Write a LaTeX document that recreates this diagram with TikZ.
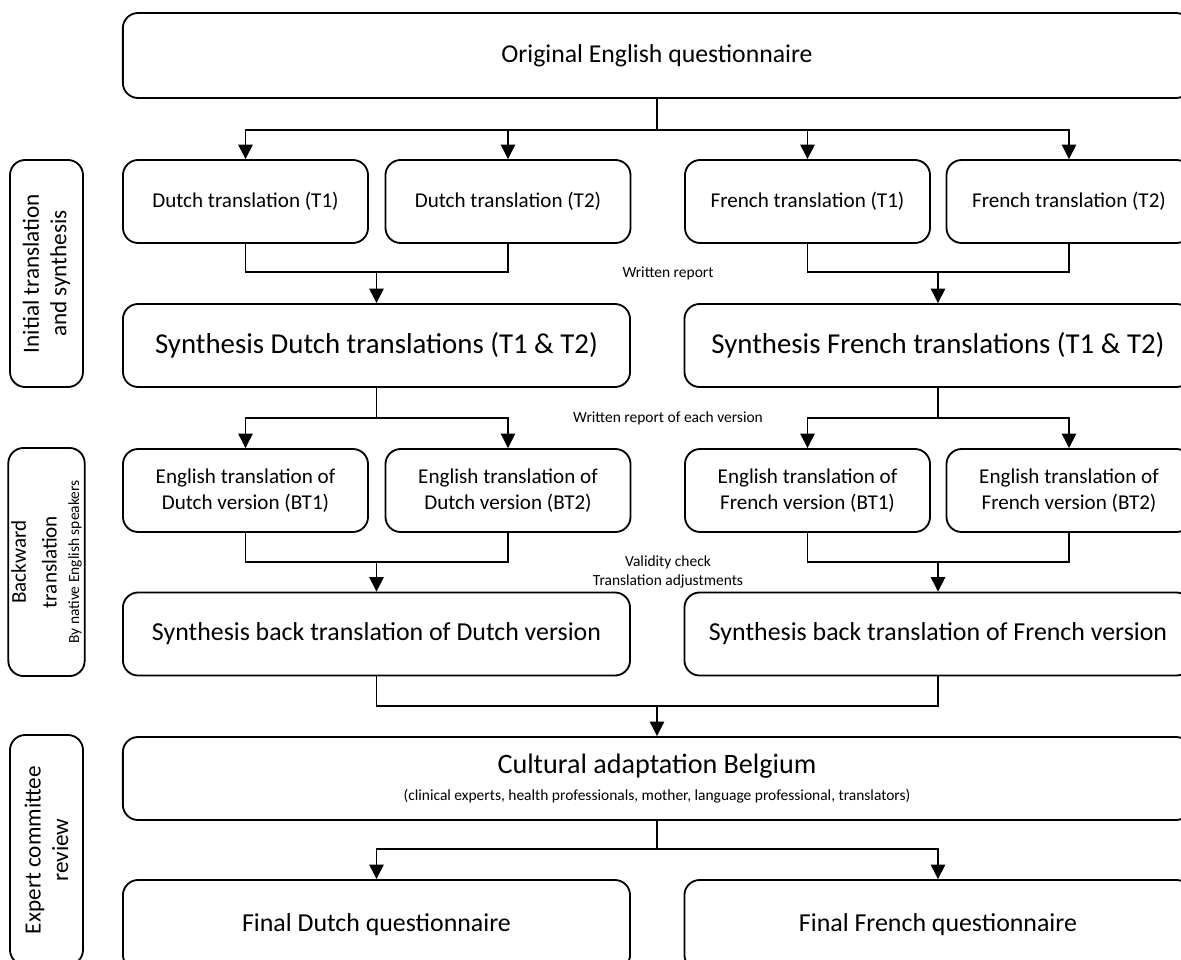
\documentclass[tikz,border=0pt]{standalone}
\usepackage{fontspec}
\setmainfont{Carlito}
\usetikzlibrary{arrows.meta}
\usetikzlibrary{positioning}

\begin{document}
\begin{tikzpicture}[x=0.025cm, y=-0.025cm,
        box/.style={draw, rounded corners=0.38cm, line width=1.3pt, align=center, inner sep=2pt},
        small/.style={box, minimum width=6.125cm, minimum height=2.075cm, font=\fontsize{15}{18.5}\selectfont},
        wide/.style={box, minimum width=12.675cm, minimum height=2.075cm, font=\fontsize{18.4}{22}\selectfont},
        side/.style={box, rotate=90, minimum height=1.825cm, font=\fontsize{16.5}{19.5}\selectfont},
        note/.style={font=\fontsize{11}{13}\selectfont, align=center},
        line/.style={line width=0.8pt},
        arr/.style={line, -{Triangle[width=0.36cm, length=0.36cm]}}]
    \useasboundingbox (0,0) rectangle (1181,959);
    \clip (0,0) rectangle (1181,959);

    % steps
    \node[box, minimum width=26.7cm, minimum height=2.125cm, font=\fontsize{18.3}{22}\selectfont] (orig) at (657,55.5) {Original English questionnaire};
    \node[small] (dt1) at (245.5,201.5) {Dutch translation (T1)};
    \node[small] (dt2) at (508,201.5) {Dutch translation (T2)};
    \node[small] (ft1) at (807.5,201.5) {French translation (T1)};
    \node[small] (ft2) at (1069,201.5) {French translation (T2)};
    \node[wide, font=\fontsize{20.5}{24}\selectfont] (sd) at (376.5,345.5) {Synthesis Dutch translations (T1 \& T2)};
    \node[wide, font=\fontsize{20.5}{24}\selectfont] (sf) at (938,345.5) {Synthesis French translations (T1 \& T2)};
    \node[small] (bd1) at (245.5,490.5) {English translation of\\Dutch version (BT1)};
    \node[small] (bd2) at (508,490.5) {English translation of\\Dutch version (BT2)};
    \node[small] (bf1) at (807.5,490.5) {English translation of\\French version (BT1)};
    \node[small] (bf2) at (1069,490.5) {English translation of\\French version (BT2)};
    \node[wide] (bsd) at (376.5,634) {Synthesis back translation of Dutch version};
    \node[wide] (bsf) at (938,634) {Synthesis back translation of French version};
    \node[box, minimum width=26.7cm, minimum height=2.075cm, font=\fontsize{20}{24}\selectfont] (cult) at (657,778.5)
        {Cultural adaptation Belgium\\[-5pt]
         {\fontsize{11}{13}\selectfont (clinical experts, health professionals, mother, language professional, translators)}};
    \node[wide, minimum height=2.25cm] (fd) at (376.5,925) {Final Dutch questionnaire};
    \node[wide, minimum height=2.25cm] (ff) at (938,925) {Final French questionnaire};

    % phases
    \node[side, minimum width=5.675cm] (ph1) at (46.5,273.5) {Initial translation\\and synthesis};
    \node[side, minimum width=5.7cm, font=\fontsize{15}{22}\selectfont] (ph2) at (46.5,562)
        {Backward\\translation\\[-6pt]{\fontsize{11}{12}\selectfont By native English speakers}};
    \node[side, minimum width=5.75cm] (ph3) at (46.5,850) {Expert committee\\review};

    % notes
    \node[note] (n1) at (668,273) {Written report};
    \node[note] (n2) at (668,418) {Written report of each version};
    \node[note] (n3) at (668,572) {Validity check\\Translation adjustments};

    % connectors
    \coordinate (s1) at (657,130);
    \draw[line] (orig.south) -- (s1);
    \draw[arr] (s1) -| (dt1.north);
    \draw[arr] (s1) -| (dt2.north);
    \draw[arr] (s1) -| (ft1.north);
    \draw[arr] (s1) -| (ft2.north);

    \coordinate (m1) at (376.5,272);
    \coordinate (m2) at (938,272);
    \draw[line] (dt1.south) |- (m1) -| (dt2.south);
    \draw[line] (ft1.south) |- (m2) -| (ft2.south);
    \draw[arr] (m1) -- (sd.north);
    \draw[arr] (m2) -- (sf.north);

    \coordinate (s2) at (376.5,418);
    \coordinate (s3) at (938,418);
    \draw[line] (sd.south) -- (s2);
    \draw[line] (sf.south) -- (s3);
    \draw[arr] (s2) -| (bd1.north);
    \draw[arr] (s2) -| (bd2.north);
    \draw[arr] (s3) -| (bf1.north);
    \draw[arr] (s3) -| (bf2.north);

    \coordinate (m3) at (376.5,562);
    \coordinate (m4) at (938,562);
    \draw[line] (bd1.south) |- (m3) -| (bd2.south);
    \draw[line] (bf1.south) |- (m4) -| (bf2.south);
    \draw[arr] (m3) -- (bsd.north);
    \draw[arr] (m4) -- (bsf.north);

    \coordinate (m5) at (657,706);
    \draw[line] (bsd.south) |- (m5) -| (bsf.south);
    \draw[arr] (m5) -- (cult.north);

    \coordinate (s4) at (657,849);
    \draw[line] (cult.south) -- (s4);
    \draw[arr] (s4) -| (fd.north);
    \draw[arr] (s4) -| (ff.north);
\end{tikzpicture}
\end{document}
